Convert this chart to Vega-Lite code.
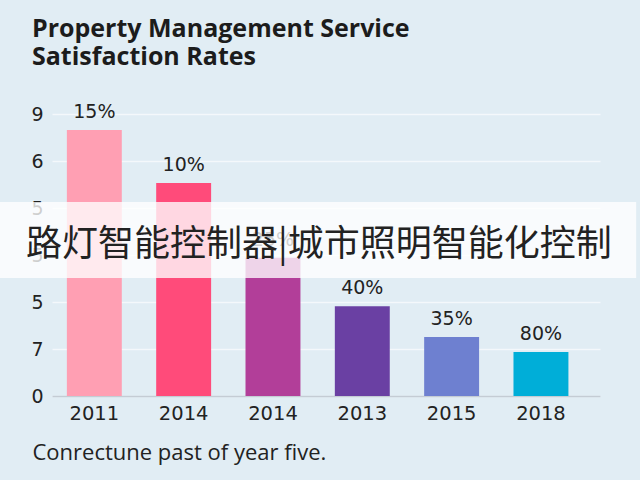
{
  "$schema": "https://vega.github.io/schema/vega-lite/v6.json",
  "autosize": {"type": "none"},
  "padding": {"left": 52, "top": 114, "right": 40, "bottom": 84},
  "width": 548,
  "height": 282,
  "background": "#e1edf4",
  "title": {
    "text": ["Property Management Service", "Satisfaction Rates"],
    "anchor": "start",
    "frame": "group",
    "dx": -20,
    "offset": 33,
    "font": "Open Sans",
    "fontSize": 25,
    "fontWeight": "bold",
    "color": "#1c1c1c",
    "lineHeight": 28
  },
  "datasets": {
    "rates": [
      {"year": "2011", "value": 5.66, "label": "15%"},
      {"year": "2014", "value": 4.53, "label": "10%"},
      {"year": "2014*", "value": 2.94, "label": "25%"},
      {"year": "2013", "value": 1.91, "label": "40%"},
      {"year": "2015", "value": 1.255, "label": "35%"},
      {"year": "2018", "value": 0.936, "label": "80%"}
    ],
    "banner": [
      {"caption": "路灯智能控制器|城市照明智能化控制"}
    ]
  },
  "layer": [
    {
      "data": {"name": "rates"},
      "encoding": {
        "x": {
          "field": "year",
          "type": "nominal",
          "sort": null,
          "scale": {"paddingInner": 0.385, "paddingOuter": 0.26, "align": 0.32},
          "axis": {
            "labelExpr": "replace(datum.label, '*', '')",
            "labelAngle": 0,
            "labelFont": "DejaVu Sans",
            "labelFontSize": 19.5,
            "labelColor": "#222222",
            "labelPadding": 8,
            "ticks": false,
            "domainColor": "#c4ccd4",
            "domainWidth": 1.5,
            "title": "Conrectune past of year five.",
            "titleFont": "Open Sans",
            "titleFontSize": 22,
            "titleFontWeight": "normal",
            "titleColor": "#222222",
            "titleAnchor": "start",
            "titleAlign": "left",
            "titleBaseline": "alphabetic",
            "titleX": -20,
            "titleY": 63
          }
        },
        "y": {
          "field": "value",
          "type": "quantitative",
          "scale": {"domain": [0, 6], "nice": false},
          "axis": {
            "values": [0, 1, 2, 3, 4, 5, 6],
            "labelExpr": "['0', '7', '5', '5', '5', '6', '9'][datum.value]",
            "labelFont": "DejaVu Sans",
            "labelFontSize": 19,
            "labelColor": "#222222",
            "labelPadding": 9,
            "ticks": false,
            "domain": false,
            "gridColor": "#f4f8fb",
            "gridWidth": 1.5,
            "title": null
          }
        }
      },
      "layer": [
        {
          "mark": {"type": "bar"},
          "encoding": {
            "color": {
              "field": "year",
              "type": "nominal",
              "legend": null,
              "scale": {
                "domain": ["2011", "2014", "2014*", "2013", "2015", "2018"],
                "range": ["#ff9fb3", "#ff4b7a", "#b23e99", "#6a40a3", "#6e80d0", "#00aed8"]
              }
            }
          }
        },
        {
          "mark": {"type": "text", "baseline": "bottom", "dy": -8, "font": "DejaVu Sans", "fontSize": 19, "color": "#222222"},
          "encoding": {"text": {"field": "label"}}
        }
      ]
    },
    {
      "data": {"name": "banner"},
      "layer": [
        {
          "mark": {"type": "rect", "color": "#ffffff", "opacity": 0.78},
          "encoding": {
            "x": {"datum": -0.095, "type": "quantitative", "scale": {"domain": [0, 1], "nice": false, "zero": false}, "axis": null},
            "x2": {"datum": 1.066},
            "y": {"datum": 2.51, "type": "quantitative", "axis": {"title": null}},
            "y2": {"datum": 4.13}
          }
        },
        {
          "mark": {"type": "text", "font": "Noto Sans CJK SC", "fontSize": 36, "color": "#222222", "baseline": "middle", "align": "center"},
          "encoding": {
            "x": {"datum": 0.487, "type": "quantitative"},
            "y": {"datum": 3.21, "type": "quantitative"},
            "text": {"field": "caption"}
          }
        }
      ]
    }
  ],
  "resolve": {"scale": {"x": "independent"}, "axis": {"x": "independent"}},
  "config": {
    "view": {"stroke": null}
  }
}
